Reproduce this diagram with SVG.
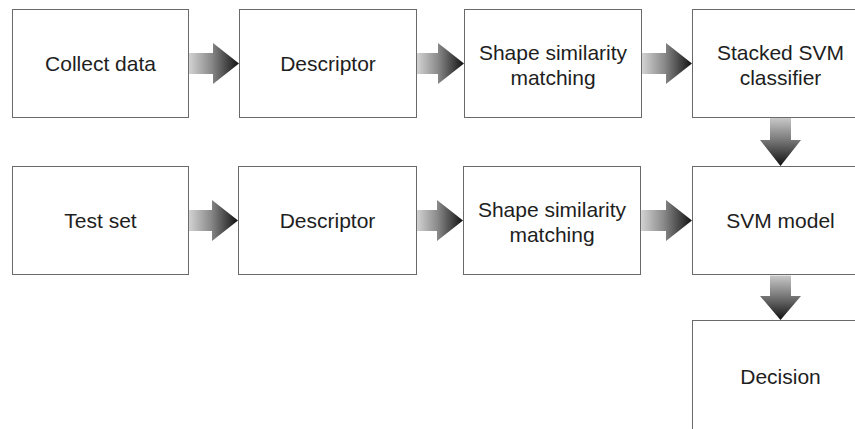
<svg xmlns="http://www.w3.org/2000/svg" width="855" height="429" viewBox="0 0 855 429">
  <defs>
    <linearGradient id="gh" x1="0" y1="0" x2="1" y2="0">
      <stop offset="0" stop-color="#d4d4d4"/>
      <stop offset="0.45" stop-color="#8a8a8a"/>
      <stop offset="1" stop-color="#111111"/>
    </linearGradient>
    <linearGradient id="gv" x1="0" y1="0" x2="0" y2="1">
      <stop offset="0" stop-color="#c8c8c8"/>
      <stop offset="0.45" stop-color="#7a7a7a"/>
      <stop offset="1" stop-color="#111111"/>
    </linearGradient>
  </defs>
  <style>
    .box { fill: #ffffff; stroke: #6a6a6a; stroke-width: 1; }
    .lbl { font-family: "Liberation Sans", Arial, Helvetica, sans-serif; font-size: 21px; fill: #1e1e1e; text-anchor: middle; }
    .ah { fill: url(#gh); }
    .av { fill: url(#gv); }
  </style>
  <rect width="855" height="429" fill="#ffffff"/>

  <g id="connectors">
    <path class="ah" d="M188.5,53 H213 V43 L239,63.5 L213,84 V74 H188.5 Z"/>
    <path class="ah" d="M416.5,53 H438 V43 L464,63.5 L438,84 V74 H416.5 Z"/>
    <path class="ah" d="M641.5,53 H666 V43 L692,63.5 L666,84 V74 H641.5 Z"/>
    <path class="ah" d="M188.5,210 H212 V200 L238,220.5 L212,241 V231 H188.5 Z"/>
    <path class="ah" d="M416.5,210 H437 V200 L463,220.5 L437,241 V231 H416.5 Z"/>
    <path class="ah" d="M640.5,210 H666 V200 L692,220.5 L666,241 V231 H640.5 Z"/>
    <path class="av" d="M770,118 H791 V140 H801 L780.5,166 L760,140 H770 Z"/>
    <path class="av" d="M770,275.5 H791 V296 H801 L780.5,320 L760,296 H770 Z"/>
  </g>

  <g id="collect-data">
    <rect class="box" x="12.5" y="9.5" width="176" height="108"/>
    <text class="lbl" x="100.5" y="71">Collect data</text>
  </g>
  <g id="descriptor-1">
    <rect class="box" x="239.5" y="9.5" width="177" height="108"/>
    <text class="lbl" x="328" y="71">Descriptor</text>
  </g>
  <g id="shape-matching-1">
    <rect class="box" x="464.5" y="9.5" width="177" height="108"/>
    <text class="lbl" x="553" y="60">Shape similarity</text>
    <text class="lbl" x="553" y="85">matching</text>
  </g>
  <g id="stacked-svm">
    <rect class="box" x="692.5" y="9.5" width="177" height="108"/>
    <text class="lbl" x="780.5" y="60">Stacked SVM</text>
    <text class="lbl" x="780.5" y="85">classifier</text>
  </g>

  <g id="test-set">
    <rect class="box" x="12.5" y="166.5" width="176" height="108"/>
    <text class="lbl" x="100.5" y="228">Test set</text>
  </g>
  <g id="descriptor-2">
    <rect class="box" x="238.5" y="166.5" width="178" height="108"/>
    <text class="lbl" x="327.5" y="228">Descriptor</text>
  </g>
  <g id="shape-matching-2">
    <rect class="box" x="463.5" y="166.5" width="177" height="108"/>
    <text class="lbl" x="552" y="217">Shape similarity</text>
    <text class="lbl" x="552" y="242">matching</text>
  </g>
  <g id="svm-model">
    <rect class="box" x="692.5" y="166.5" width="177" height="108"/>
    <text class="lbl" x="780.5" y="228">SVM model</text>
  </g>

  <g id="decision">
    <rect class="box" x="692.5" y="320.5" width="177" height="130"/>
    <text class="lbl" x="780.5" y="384">Decision</text>
  </g>
</svg>
